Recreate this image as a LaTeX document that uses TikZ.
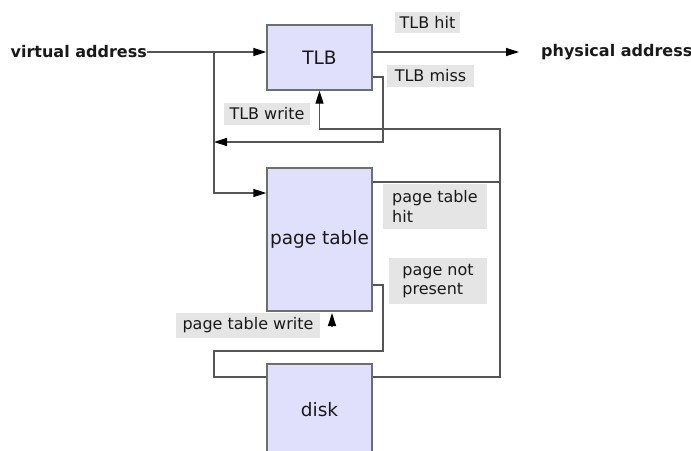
\documentclass[tikz,border=0pt]{standalone}
\usepackage{fontspec}
\setmainfont{DejaVu Sans}
\usetikzlibrary{arrows.meta}
\definecolor{boxfill}{RGB}{224,224,252}
\definecolor{boxline}{RGB}{110,110,110}
\definecolor{linecol}{RGB}{85,85,85}
\definecolor{lblfill}{RGB}{229,229,229}
\definecolor{txt}{RGB}{25,25,25}
\begin{document}
\begin{tikzpicture}[x=1pt,y=-1pt,
  font=\fontsize{16}{19.5}\selectfont, text=txt,
  box/.style={draw=boxline, fill=boxfill, line width=1.3pt, inner sep=0pt, font=\fontsize{18.5}{21}\selectfont},
  lbl/.style={fill=lblfill, inner sep=0pt, align=left},
  endtxt/.style={inner sep=0pt, font=\fontsize{16}{19}\selectfont\bfseries},
  conn/.style={draw=linecol, line width=1.3pt},
  arr/.style={conn, -{Triangle[length=13pt,width=8pt,color=black]}}]
\useasboundingbox (0,0) rectangle (691,450);
\clip (0,0) rectangle (691,450);
\fill[white] (0,0) rectangle (691,450);
% boxes
\node[box, minimum width=105pt, minimum height=65pt] (tlb) at (319.5,57.5) {TLB};
\node[box, minimum width=105pt, minimum height=143pt] (pt) at (319.5,239.5) {page table};
\node[box, minimum width=105pt, minimum height=92pt] (disk) at (319.5,410) {disk};
% end texts
\node[endtxt, anchor=east] (va) at (147,52) {virtual address};
\node[endtxt, anchor=west] (pa) at (541,52) {physical address};
% labels
\node[lbl, minimum width=65pt, minimum height=21pt] (lhit) at (427.5,22.5) {TLB hit};
\node[lbl, minimum width=87pt, minimum height=22pt] (lmiss) at (430.5,76) {TLB miss};
\node[lbl, minimum width=86pt, minimum height=22pt] (lwrite) at (267,114) {TLB write};
\node[lbl, minimum width=104pt, minimum height=45pt] (lpth) at (435,206.5) {page table\\hit};
\node[lbl, minimum width=98pt, minimum height=46pt] (lpnp) at (438,281) {page not\\present};
\node[lbl, minimum width=144pt, minimum height=25pt] (lptw) at (248,325.5) {page table write};
% coordinates
\coordinate (j1) at (214,52);
\coordinate (c193) at (0,193);
\coordinate (patip) at (519,52);
\coordinate (m1) at (383,77);
\coordinate (m2) at (383,142);
\coordinate (w1) at (500,129);
\coordinate (c182) at (0,182);
\coordinate (c285) at (0,285);
\coordinate (n1) at (383,351);
\coordinate (n2) at (214,351);
\coordinate (c377) at (0,377);
\coordinate (ptwb) at (332,327);
\coordinate (ptwt) at (332,313);
% connectors
\draw[arr] (va.east) -- (tlb.west |- va.east);
\draw[arr] (j1) |- (pt.west |- c193);
\draw[arr] (tlb.east |- j1) -- (patip);
\draw[arr] (tlb.east |- m1) -| (m2) -- (j1 |- m2);
\draw[arr] (disk.east |- c377) -| (w1) -| (tlb.south);
\draw[conn] (pt.east |- c182) -- (w1 |- c182);
\draw[conn] (pt.east |- c285) -| (n1) -- (n2) |- (disk.west |- c377);
\draw[arr] (ptwb) -- (ptwt);
\end{tikzpicture}
\end{document}
